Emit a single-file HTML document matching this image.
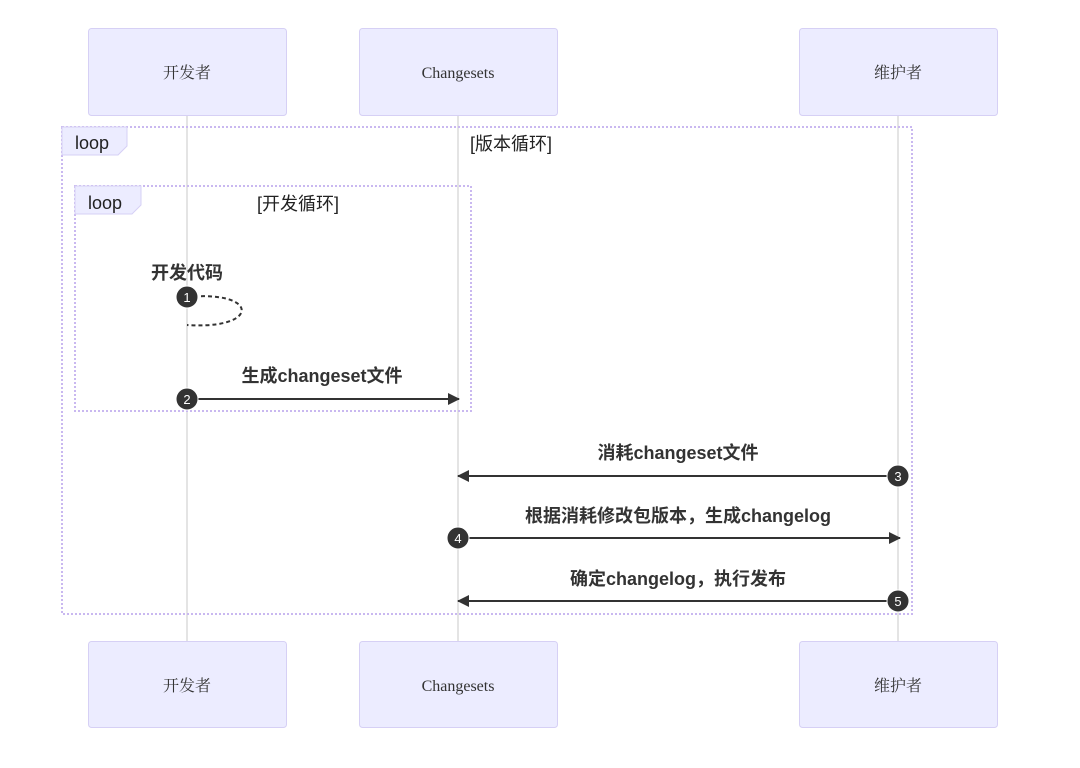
<!DOCTYPE html>
<html><head><meta charset="utf-8"><style>
html,body{margin:0;padding:0;background:#fff;width:1080px;height:768px;overflow:hidden}
</style></head><body>
<svg width="1080" height="768" xmlns="http://www.w3.org/2000/svg" font-family="Liberation Sans, Noto Sans CJK SC, sans-serif">
<defs><marker id="a" markerWidth="12" markerHeight="12" refX="11" refY="6" orient="auto" markerUnits="userSpaceOnUse"><path d="M0,0 L12,6 L0,12 z" fill="#333"/></marker></defs>
<g stroke="#c8c8c8" stroke-width="1">
<line x1="187" y1="115" x2="187" y2="641"/>
<line x1="458" y1="115" x2="458" y2="641"/>
<line x1="898" y1="115" x2="898" y2="641"/>
</g>
<g fill="#ececff" stroke="#d6d0f5" stroke-width="1">
<rect x="88.5" y="28.5" width="198" height="87" rx="3"/>
<rect x="359.5" y="28.5" width="198" height="87" rx="3"/>
<rect x="799.5" y="28.5" width="198" height="87" rx="3"/>
<rect x="88.5" y="641.5" width="198" height="86" rx="3"/>
<rect x="359.5" y="641.5" width="198" height="86" rx="3"/>
<rect x="799.5" y="641.5" width="198" height="86" rx="3"/>
</g>
<g font-family="Liberation Serif, Noto Serif CJK SC, serif" font-size="16" text-anchor="middle" fill="#333">
<text x="187" y="78">开发者</text><text x="458" y="78">Changesets</text><text x="898" y="78">维护者</text>
<text x="187" y="691">开发者</text><text x="458" y="691">Changesets</text><text x="898" y="691">维护者</text>
</g>
<g fill="none" stroke="#c9b8f0" stroke-width="2" stroke-dasharray="2,2">
<rect x="62" y="127" width="850" height="487"/>
<rect x="75" y="186" width="396" height="225"/>
</g>
<path d="M62,127 H127 V146 L118,155 H62 Z" fill="#ececff" stroke="#d6d0f5"/>
<path d="M75,186 H141 V205 L132,214 H75 Z" fill="#ececff" stroke="#d6d0f5"/>
<g font-size="18" fill="#222">
<text x="75" y="149">loop</text><text x="88" y="209">loop</text>
<text x="470" y="150">[版本循环]</text><text x="257" y="210">[开发循环]</text>
</g>
<g font-size="18" font-weight="bold" fill="#333" text-anchor="middle" font-family="Liberation Sans, Noto Sans CJK SC, sans-serif">
<text x="187" y="279">开发代码</text>
<text x="322" y="382">生成changeset文件</text>
<text x="678" y="459">消耗changeset文件</text>
<text x="678" y="522">根据消耗修改包版本，生成changelog</text>
<text x="678" y="585">确定changelog，执行发布</text>
</g>
<path d="M187,297 C260,290 260,330 187,325" fill="none" stroke="#333" stroke-width="2" stroke-dasharray="4,3"/>
<g stroke="#333" stroke-width="2" marker-end="url(#a)">
<line x1="187" y1="399" x2="459" y2="399"/>
<line x1="898" y1="476" x2="458" y2="476"/>
<line x1="458" y1="538" x2="900" y2="538"/>
<line x1="898" y1="601" x2="458" y2="601"/>
</g>
<g fill="#333" stroke="#fff" stroke-width="1">
<circle cx="187" cy="297" r="11"/><circle cx="187" cy="399" r="11"/>
<circle cx="898" cy="476" r="11"/><circle cx="458" cy="538" r="11"/><circle cx="898" cy="601" r="11"/>
</g>
<g fill="#fff" font-size="13" text-anchor="middle">
<text x="187" y="302">1</text><text x="187" y="404">2</text><text x="898" y="481">3</text><text x="458" y="543">4</text><text x="898" y="606">5</text>
</g>
</svg>
</body></html>
